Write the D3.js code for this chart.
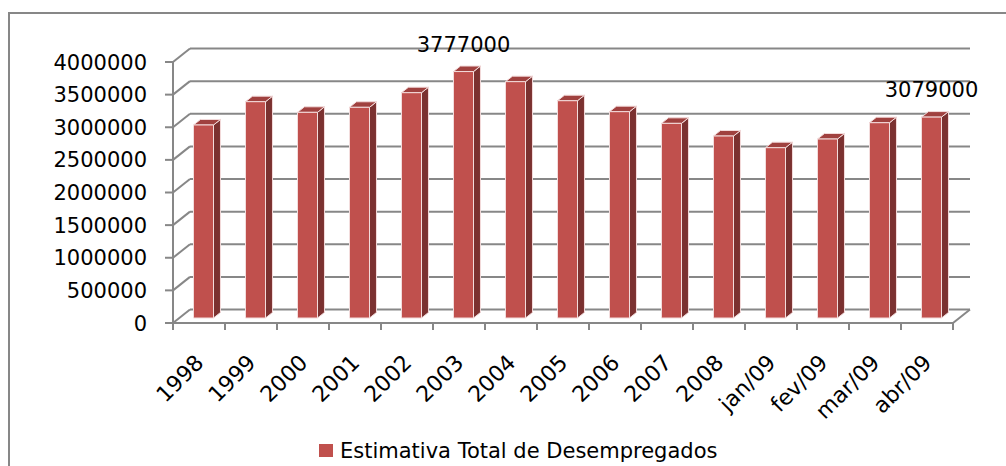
<!DOCTYPE html>
<html>
<head>
<meta charset="utf-8">
<script src="https://cdn.jsdelivr.net/npm/d3@7"></script>
<style>
  body { margin: 0; background: #fff; }
  text { font-family: "DejaVu Sans", sans-serif; fill: #000; }
</style>
</head>
<body>
<script>
// data
var categories = ["1998", "1999", "2000", "2001", "2002", "2003", "2004", "2005",
                  "2006", "2007", "2008", "jan/09", "fev/09", "mar/09", "abr/09"];
var values = [2958000, 3315000, 3152000, 3229000, 3453000, 3777000, 3622000, 3330000,
              3162000, 2983000, 2789000, 2610000, 2743000, 2993000, 3079000];
var yTicks = [0, 500000, 1000000, 1500000, 2000000, 2500000, 3000000, 3500000, 4000000];
var labelled = ["2003", "abr/09"];
var seriesName = "Estimativa Total de Desempregados";

var width = 1006, height = 466;
var gridColor = "#878787";
var barFront = "#c0504d", barSide = "#7b3130", barTop = "#a0413f";

// plot box (front plane) and 3d depth vector
var x0 = 173, x1 = 953, yBottom = 323, yTop = 62;
var dx = 17, dy = -13.5;
var frontFrac = 0.37, backFrac = 0.78;

var x = d3.scaleBand().domain(categories).range([x0, x1]);
var y = d3.scaleLinear().domain([0, 4000000]).range([yBottom, yTop]);

var svg = d3.select("body").append("svg")
  .attr("width", width)
  .attr("height", height);

// outer frame
svg.append("path")
  .attr("d", "M9," + height + "V13H" + width)
  .attr("fill", "none")
  .attr("stroke", gridColor)
  .attr("stroke-width", 2);

var grid = svg.append("g")
  .attr("stroke", gridColor)
  .attr("stroke-width", 2)
  .attr("fill", "none");

// back wall gridlines
grid.selectAll(".back").data(yTicks).enter().append("line")
  .attr("x1", x0 + dx).attr("x2", x1 + dx)
  .attr("y1", function(d) { return y(d) + dy; })
  .attr("y2", function(d) { return y(d) + dy; });

// side wall diagonals
grid.selectAll(".side").data(yTicks).enter().append("line")
  .attr("x1", x0).attr("x2", x0 + dx)
  .attr("y1", function(d) { return y(d); })
  .attr("y2", function(d) { return y(d) + dy; });

// value axis line and ticks
grid.append("line")
  .attr("x1", x0).attr("x2", x0)
  .attr("y1", y(0)).attr("y2", y(4000000));
grid.selectAll(".ytick").data(yTicks).enter().append("line")
  .attr("x1", x0 - 8).attr("x2", x0)
  .attr("y1", function(d) { return y(d); })
  .attr("y2", function(d) { return y(d); });

svg.selectAll(".ylab").data(yTicks).enter().append("text")
  .attr("x", 147)
  .attr("y", function(d) { return y(d); })
  .attr("dy", "0.36em")
  .attr("text-anchor", "end")
  .style("font-size", "21px")
  .text(function(d) { return d; });

// bars
var barW = 20;
var sdx = (backFrac - frontFrac) * dx, sdy = (backFrac - frontFrac) * dy;
var yb = function(v) { return y(v) + frontFrac * dy; };
var faceX = function(c) { return x(c) + (x.bandwidth() - barW) / 2 + 4.5; };

var bars = svg.selectAll(".bar").data(categories).enter().append("g")
  .attr("stroke", "#f3dcdc")
  .attr("stroke-width", 1)
  .attr("stroke-linejoin", "round");

bars.append("polygon")
  .attr("fill", barSide)
  .attr("points", function(c, i) {
    var l = faceX(c) + barW, t = yb(values[i]), b = yb(0);
    return [[l, t], [l + sdx, t + sdy], [l + sdx, b + sdy], [l, b]].join(" ");
  });
bars.append("polygon")
  .attr("fill", barTop)
  .attr("points", function(c, i) {
    var l = faceX(c), t = yb(values[i]);
    return [[l, t], [l + barW, t], [l + barW + sdx, t + sdy], [l + sdx, t + sdy]].join(" ");
  });
bars.append("rect")
  .attr("fill", barFront)
  .attr("x", function(c) { return faceX(c); })
  .attr("y", function(c, i) { return yb(values[i]); })
  .attr("width", barW)
  .attr("height", function(c, i) { return yb(0) - yb(values[i]); });

// floor edges + category ticks
var floor = svg.append("g")
  .attr("stroke", gridColor)
  .attr("stroke-width", 2);
floor.append("line")
  .attr("x1", x0).attr("x2", x1)
  .attr("y1", y(0)).attr("y2", y(0));
floor.append("line")
  .attr("x1", x1).attr("x2", x1 + dx)
  .attr("y1", y(0)).attr("y2", y(0) + dy);
floor.selectAll(".xtick").data(d3.range(categories.length + 1)).enter().append("line")
  .attr("x1", function(i) { return x0 + i * x.step(); })
  .attr("x2", function(i) { return x0 + i * x.step(); })
  .attr("y1", y(0)).attr("y2", y(0) + 7);

// category labels
svg.selectAll(".xlab").data(categories).enter().append("text")
  .attr("transform", function(c) {
    return "translate(" + (x(c) + x.bandwidth() / 2 + 6) + ",364) rotate(-45)";
  })
  .attr("text-anchor", "end")
  .style("font-size", "22px")
  .text(function(c) { return c; });

// data labels
svg.selectAll(".vlab").data(categories.filter(function(c) { return labelled.indexOf(c) >= 0; }))
  .enter().append("text")
  .attr("x", function(c) { return faceX(c) + barW / 2; })
  .attr("y", function(c) { return yb(values[categories.indexOf(c)]) - 20; })
  .attr("text-anchor", "middle")
  .style("font-size", "21px")
  .text(function(c) { return values[categories.indexOf(c)]; });

// legend
svg.append("rect")
  .attr("x", 319).attr("y", 444)
  .attr("width", 14).attr("height", 13)
  .attr("fill", barFront);
svg.append("text")
  .attr("x", 340).attr("y", 458)
  .style("font-size", "21px")
  .text(seriesName);
</script>
</body>
</html>
